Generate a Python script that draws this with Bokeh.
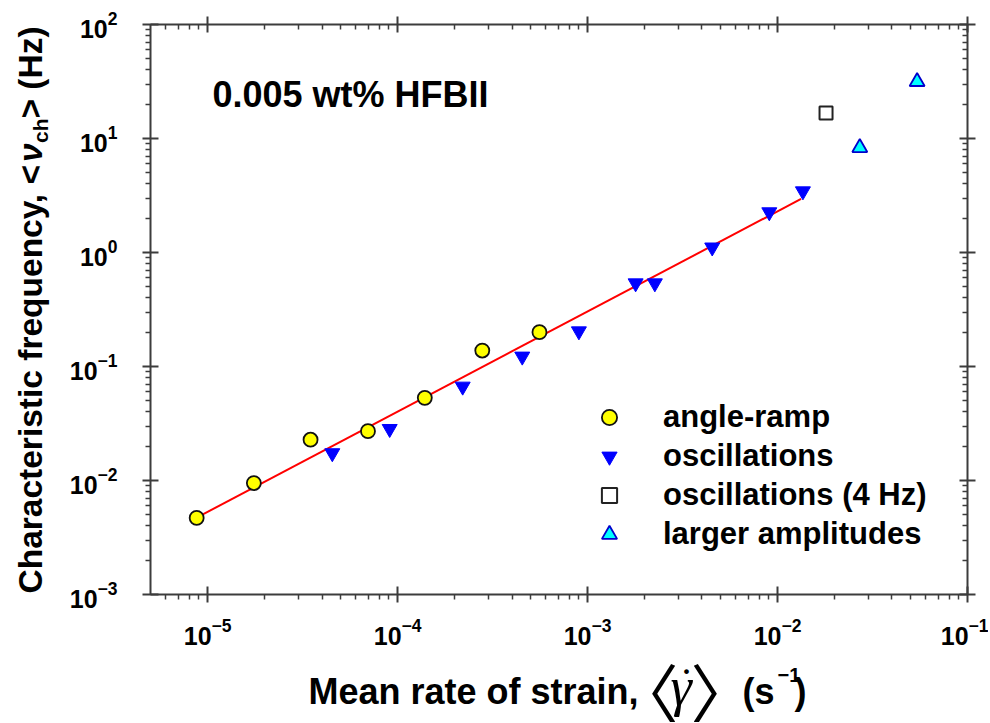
import math
from bokeh.plotting import figure
from bokeh.layouts import column, row
from bokeh.models import (Range1d, LogAxis, FixedTicker, Legend, LegendItem, Label,
                          CustomJSTickFormatter)
from bokeh.embed import file_html
from bokeh.resources import INLINE

# ---------------- data ----------------
ramp_x = [8.75e-6, 1.75e-5, 3.48e-5, 6.98e-5, 1.39e-4, 2.79e-4, 5.58e-4]
ramp_y = [4.7e-3, 9.5e-3, 2.28e-2, 2.71e-2, 5.31e-2, 1.38e-1, 2.0e-1]

osc_x = [4.53e-5, 9.08e-5, 2.2e-4, 4.53e-4, 9.0e-4, 1.79e-3, 2.26e-3, 4.53e-3, 9.05e-3, 1.36e-2]
osc_y = [0.0174, 0.0284, 0.0668, 0.1225, 0.204, 0.538, 0.538, 1.11, 2.26, 3.45]

osc4_x = [0.018]
osc4_y = [16.7]

large_x = [0.0271, 0.0543]
large_y = [8.3, 31.5]

fit_x = [8.7e-6, 1.33e-2]
fit_y = [4.7e-3, 2.95]

x_decades = [1e-5, 1e-4, 1e-3, 1e-2, 1e-1]
y_decades = [1e-3, 1e-2, 1e-1, 1e0, 1e1, 1e2]
x_minor = [m * 10.0 ** k for k in range(-6, -1) for m in range(2, 10)]
y_minor = [m * 10.0 ** k for k in range(-3, 2) for m in range(2, 10)]

legend_labels = ["angle-ramp", "oscillations", "oscillations (4 Hz)", "larger amplitudes"]

FONT = "Liberation Sans"
AXC = "#3c3c3c"

# page layout: y-title strip (0..60) | main plot (60..988); x-title strip below
YW, MAIN_W, TOP_H, XH = 60, 928, 652, 70
FRAME_TOP, FRAME_BOTTOM = 24, 594

p = figure(width=MAIN_W, height=TOP_H, x_axis_type="log", y_axis_type="log",
           x_range=Range1d(5e-6, 1e-1), y_range=Range1d(1e-3, 1e2),
           output_backend="svg", toolbar_location=None,
           min_border_left=90, min_border_right=21, min_border_top=FRAME_TOP,
           min_border_bottom=TOP_H - FRAME_BOTTOM)
p.grid.visible = False
p.outline_line_color = None
p.background_fill_color = "white"
p.border_fill_color = "white"


def style_axis(ax, ticks, minor, minor_in, minor_out, show_labels):
    ax.ticker = FixedTicker(ticks=ticks, minor_ticks=minor)
    ax.axis_line_color = AXC
    ax.axis_line_width = 2
    ax.major_tick_line_color = AXC
    ax.major_tick_line_width = 2
    ax.minor_tick_line_color = AXC
    ax.minor_tick_line_width = 1.5
    ax.major_tick_in = 8
    ax.major_tick_out = 8
    ax.minor_tick_in = minor_in
    ax.minor_tick_out = minor_out
    if show_labels:
        ax.major_label_text_font = FONT
        ax.major_label_text_font_style = "bold"
        ax.major_label_text_font_size = "25px"
        ax.major_label_text_color = "black"
    else:
        ax.formatter = CustomJSTickFormatter(code="return ''")
        ax.major_label_text_font_size = "0px"
        ax.major_label_standoff = 0


style_axis(p.xaxis[0], x_decades, x_minor, 0, 5, True)
style_axis(p.yaxis[0], y_decades, y_minor, 0, 5, True)
p.xaxis[0].major_label_standoff = 15
p.yaxis[0].major_label_standoff = 25

top = LogAxis()
style_axis(top, x_decades, x_minor, 5, 0, False)
p.add_layout(top, "above")
right = LogAxis()
style_axis(right, y_decades, y_minor, 5, 0, False)
p.add_layout(right, "right")

# ---------------- glyphs ----------------
p.line(fit_x, fit_y, line_color="#FF0000", line_width=2)
r_ramp = p.scatter(ramp_x, ramp_y, marker="circle", size=14, fill_color="#FFFF00",
                   line_color="#111111", line_width=1.8)
r_osc = p.scatter(osc_x, osc_y, marker="inverted_triangle", size=15, fill_color="#0000FF",
                  line_color="#0000FF", line_width=1)
r_osc4 = p.scatter(osc4_x, osc4_y, marker="square", size=13, fill_color="white",
                   line_color="#222222", line_width=2)
r_large = p.scatter(large_x, large_y, marker="triangle", size=15, fill_color="#00FFFF",
                    line_color="#0000CC", line_width=1.8)

legend = Legend(items=[LegendItem(label=legend_labels[0], renderers=[r_ramp]),
                       LegendItem(label=legend_labels[1], renderers=[r_osc]),
                       LegendItem(label=legend_labels[2], renderers=[r_osc4]),
                       LegendItem(label=legend_labels[3], renderers=[r_large])],
                location=(440, 41), glyph_width=38, glyph_height=38, spacing=1,
                label_standoff=35, padding=0, margin=0, border_line_color=None,
                background_fill_alpha=0, label_text_font=FONT, label_text_font_style="bold",
                label_text_font_size="31px", label_height=38, label_text_color="black")
p.add_layout(legend)


def lab(fig, sx, sy, text, size, font=FONT, style="bold", angle=0.0):
    fig.add_layout(Label(x=sx, y=sy, x_units="screen", y_units="screen", text=text,
                         text_font=font, text_font_style=style, text_font_size=f"{size}px",
                         text_color="black", text_align="left", text_baseline="alphabetic",
                         angle=angle))


# in-frame annotation (frame left = page 150, frame bottom = page 594)
lab(p, 212 - 150, FRAME_BOTTOM - 94, "0.005 wt% HFBII", 36)


def blank(w, h):
    f = figure(width=w, height=h, x_range=Range1d(0, 1), y_range=Range1d(0, 1),
               output_backend="svg", toolbar_location=None,
               x_axis_location=None, y_axis_location=None,
               min_border_left=0, min_border_right=0, min_border_top=0, min_border_bottom=0)
    f.grid.visible = False
    f.outline_line_color = None
    f.background_fill_color = "white"
    f.border_fill_color = "white"
    return f


# ---------------- y-axis title strip (its frame is aligned with the main frame) ----------------
yfig = blank(YW, TOP_H)
yfig.min_border_top = FRAME_TOP
yfig.min_border_bottom = TOP_H - FRAME_BOTTOM
A = math.pi / 2


def ylab(px, py, text, size, style="bold"):
    lab(yfig, px, FRAME_BOTTOM - py, text, size, style=style, angle=A)


ylab(30, 593, "Characteristic frequency, <", 33.5)
ylab(30, 161.5, "\u03bd", 33.5, style="bold italic")
ylab(40, 142.5, "ch", 21)
ylab(30, 118, "> (Hz)", 33.5)

# ---------------- x-axis title strip ----------------
xfig = blank(YW + MAIN_W, XH)


def xlab(px, py, text, size, font=FONT, style="bold"):
    lab(xfig, px, TOP_H + XH - py, text, size, font=font, style=style)


BR = "Noto Sans CJK JP"
xlab(308, 691, "Mean rate of strain,", 36)
xlab(614, 689, "\u3008", 64, font=BR, style="normal")
xlab(670, 686, "\u03b3", 54, font="Liberation Serif", style="italic")
xlab(681, 660, ".", 40, font="Liberation Serif", style="normal")
xlab(690, 689, "\u3009", 64, font=BR, style="normal")
xlab(742, 691, "(s", 36)
xlab(777, 674, "\u22121", 20)
xlab(794, 691, ")", 36)

layout = column(row(yfig, p), xfig)

open("out.html", "w", encoding="utf-8").write(file_html(layout, INLINE))
